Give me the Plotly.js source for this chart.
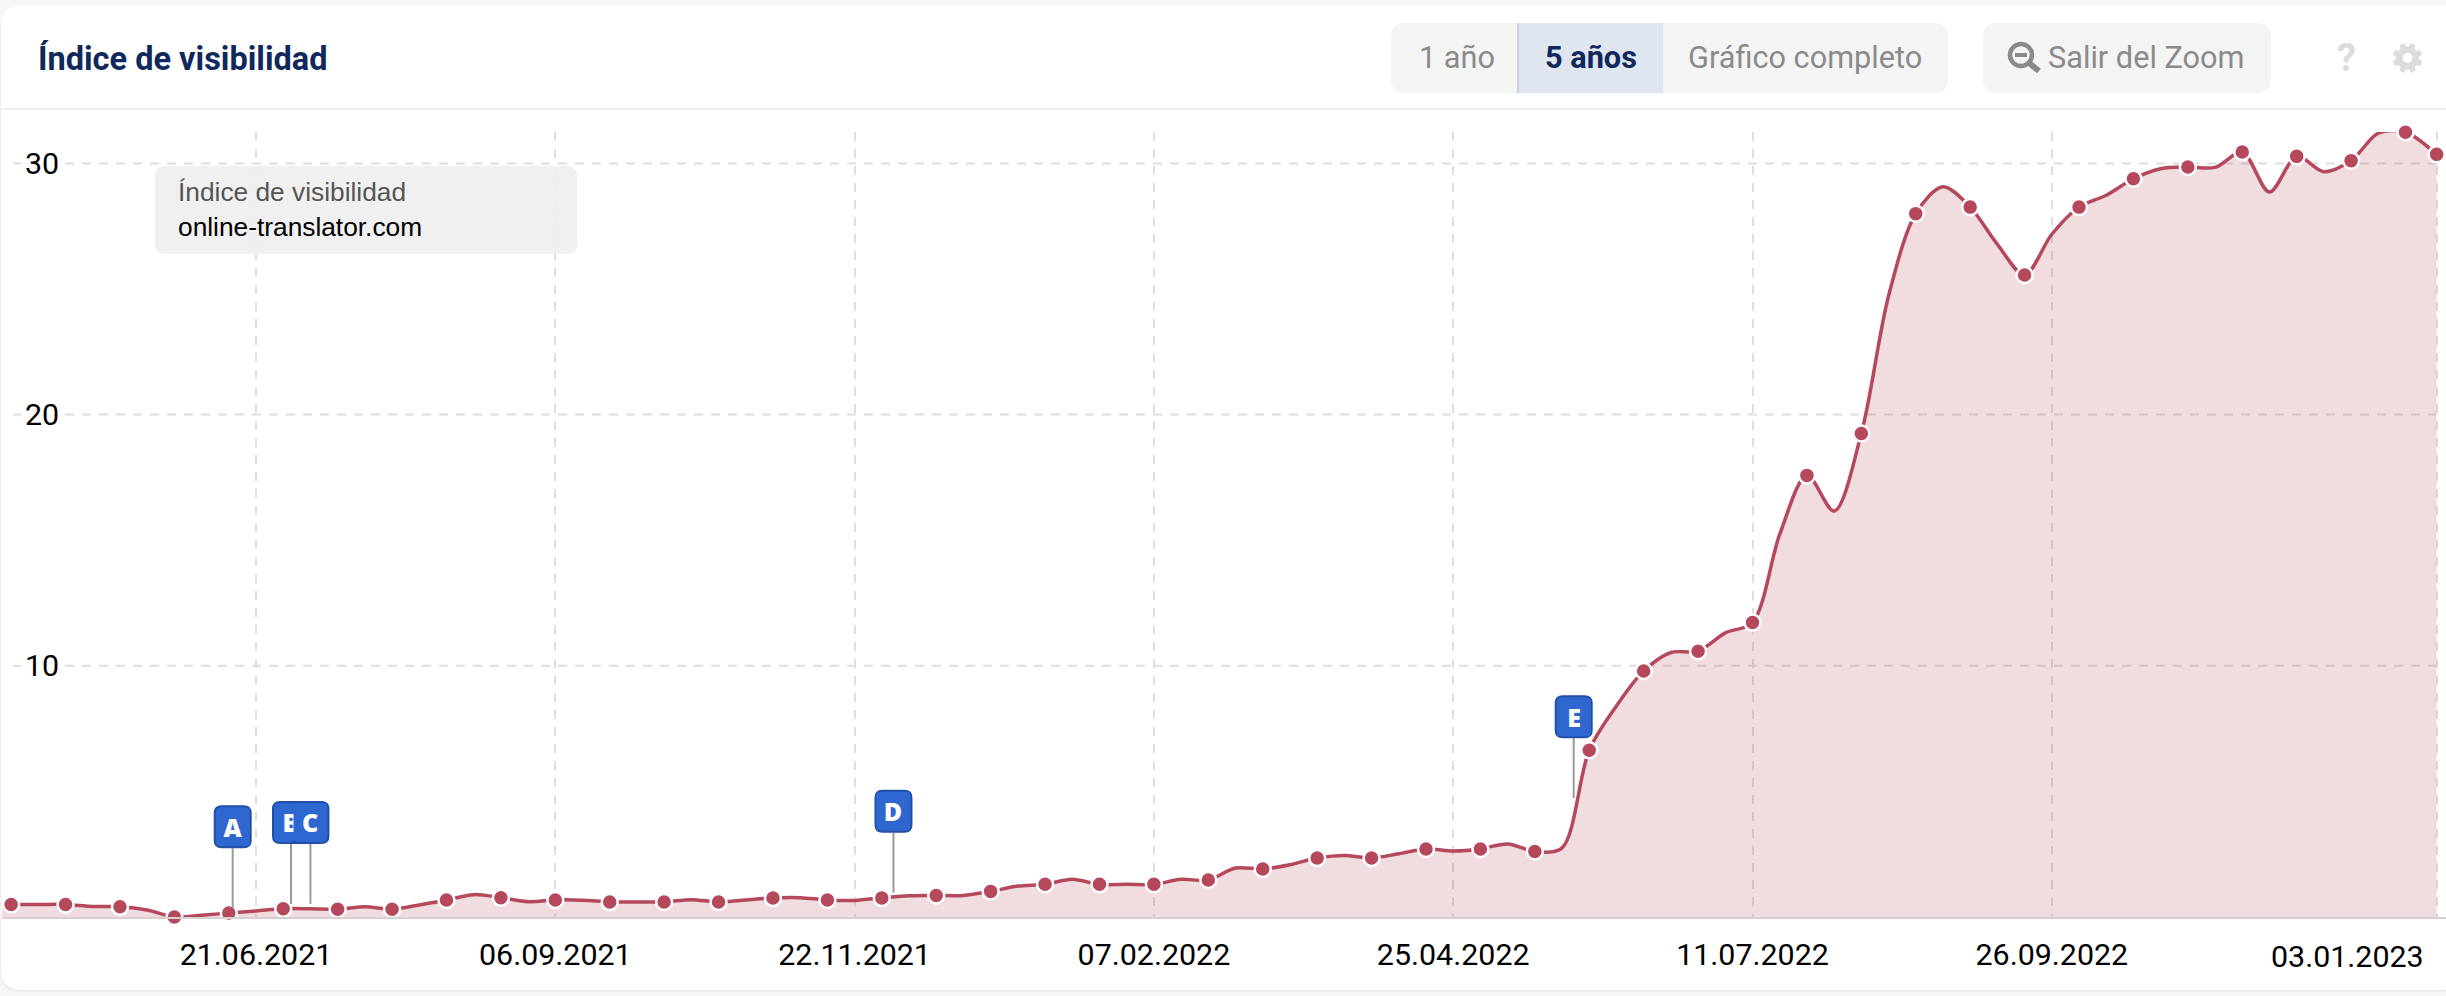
<!DOCTYPE html>
<html>
<head>
<meta charset="utf-8">
<script src="https://cdn.plot.ly/plotly-3.0.1.min.js"></script>
<style>
html,body{margin:0;padding:0;width:2446px;height:996px;overflow:hidden;background:#f6f6f6;}
#card{position:absolute;left:1px;top:5px;width:2460px;height:985px;background:#fff;border-radius:18px;box-shadow:0 1px 3px rgba(0,0,0,.08);}
#chart{position:absolute;left:0;top:0;width:2446px;height:996px;}
</style>
</head>
<body>
<div id="card"></div>
<div id="chart"></div>
<script>
// ---------- data ----------
const chartTitle = 'Índice de visibilidad';
const seriesName = 'online-translator.com';
const dates = [
'2021-04-12','2021-04-19','2021-04-26','2021-05-03','2021-05-10','2021-05-17','2021-05-24','2021-05-31',
'2021-06-07','2021-06-14','2021-06-21','2021-06-28','2021-07-05','2021-07-12','2021-07-19','2021-07-26',
'2021-08-02','2021-08-09','2021-08-16','2021-08-23','2021-08-30','2021-09-06','2021-09-13','2021-09-20',
'2021-09-27','2021-10-04','2021-10-11','2021-10-18','2021-10-25','2021-11-01','2021-11-08','2021-11-15',
'2021-11-22','2021-11-29','2021-12-06','2021-12-13','2021-12-20','2021-12-27','2022-01-03','2022-01-10',
'2022-01-17','2022-01-24','2022-01-31','2022-02-07','2022-02-14','2022-02-21','2022-02-28','2022-03-07',
'2022-03-14','2022-03-21','2022-03-28','2022-04-04','2022-04-11','2022-04-18','2022-04-25','2022-05-02',
'2022-05-09','2022-05-16','2022-05-23','2022-05-30','2022-06-06','2022-06-13','2022-06-20','2022-06-27',
'2022-07-04','2022-07-11','2022-07-18','2022-07-25','2022-08-01','2022-08-08','2022-08-15','2022-08-22',
'2022-08-29','2022-09-05','2022-09-12','2022-09-19','2022-09-26','2022-10-03','2022-10-10','2022-10-17',
'2022-10-24','2022-10-31','2022-11-07','2022-11-14','2022-11-21','2022-11-28','2022-12-05','2022-12-12',
'2022-12-19','2022-12-26','2023-01-03'];
const values = [
0.50,0.50,0.50,0.50,0.42,0.41,0.28,0.00,
0.07,0.16,0.24,0.33,0.33,0.31,0.41,0.31,
0.48,0.68,0.89,0.77,0.61,0.68,0.67,0.60,
0.60,0.60,0.69,0.60,0.68,0.76,0.77,0.68,
0.66,0.76,0.85,0.86,0.86,1.02,1.23,1.30,
1.50,1.30,1.30,1.30,1.50,1.47,1.95,1.91,
2.08,2.35,2.45,2.35,2.52,2.71,2.63,2.71,
2.91,2.61,2.75,6.64,8.40,9.79,10.53,10.58,
11.31,11.72,15.23,17.58,16.16,19.25,24.72,28.00,
29.07,28.26,26.78,25.56,27.18,28.26,28.73,29.39,
29.79,29.86,29.84,30.45,28.86,30.28,29.67,30.11,
31.20,31.24,30.36];
const tickDates = ['2021-06-21','2021-09-06','2021-11-22','2022-02-07','2022-04-25','2022-07-11','2022-09-26','2023-01-03'];
const tickLabels = ['21.06.2021','06.09.2021','22.11.2021','07.02.2022','25.04.2022','11.07.2022','26.09.2022','03.01.2023'];
const yTicks = [10,20,30];
const flagLabels = ['A','B','C','D','E'];
const flagDates = ['2021-06-15','2021-06-30','2021-07-05','2021-12-02','2022-05-26'];
const flagValues = [0.35,0.52,0.52,0.97,4.73];

// ---------- geometry & style ----------
const W=2446,H=996,L=2,R=0,T=132,B=79;
const fx=p=>(p-L)/(W-L-R), fy=p=>1-(p-T)/(H-T-B);
const RED='#b5485a', GREY='#8a8a8a', NAVY='#10295c';
function rr(x0,y0,x1,y1,r){
  const a=fx(x0),b=fx(x1),c=fy(y0),d=fy(y1),rx=r/(W-L-R),ry=r/(H-T-B);
  return `M ${a+rx} ${c} L ${b-rx} ${c} Q ${b} ${c} ${b} ${c-ry} L ${b} ${d+ry} Q ${b} ${d} ${b-rx} ${d} L ${a+rx} ${d} Q ${a} ${d} ${a} ${d+ry} L ${a} ${c-ry} Q ${a} ${c} ${a+rx} ${c} Z`;
}
const paperPath=(path,fill,line,layer)=>({type:'path',xref:'paper',yref:'paper',path,fillcolor:fill,line:line||{width:0},layer:layer||'above'});
const paperLine=(x0,y0,x1,y1,color,width,dash,layer)=>({type:'line',xref:'paper',yref:'paper',x0:fx(x0),y0:fy(y0),x1:fx(x1),y1:fy(y1),line:{color,width,dash:dash||'solid'},layer:layer||'above'});
const label=(text,px,py,size,color,family,anchor,weight)=>({xref:'paper',yref:'paper',x:fx(px),y:fy(py),text,showarrow:false,xanchor:anchor||'left',yanchor:'middle',
  font:{size,color,family:family||'Roboto, sans-serif',weight:weight||400},borderpad:0});

const shapes=[], annotations=[];
// header rule
shapes.push(paperLine(1,109,W,109,'#eeeeee',2));
// horizontal dashed gridlines, broken around the tick number
yTicks.forEach(v=>{
  [[13,21],[65,2436]].forEach(s=>shapes.push({type:'line',xref:'paper',yref:'y',x0:fx(s[0]),x1:fx(s[1]),y0:v,y1:v,layer:'below',
    line:{color:'#dedede',width:2,dash:'9px,8px'}}));
});
// range buttons
shapes.push(paperPath(rr(1391,23,1948,93,14),'#f4f4f4'));
shapes.push(paperPath(`M ${fx(1518)} ${fy(23)} L ${fx(1663)} ${fy(23)} L ${fx(1663)} ${fy(93)} L ${fx(1518)} ${fy(93)} Z`,'#e0e6f0'));
shapes.push(paperLine(1518,23,1518,93,'#c9d2e0',2));
shapes.push(paperPath(rr(1983,23,2271,93,14),'#f4f4f4'));
annotations.push(label('1 año',1418,57,30.7,GREY));
annotations.push(label('5 años',1544,57,30.7,NAVY,null,'left',700));
annotations.push(label('Gráfico completo',1687,57,30.7,GREY));
annotations.push(label('Salir del Zoom',2047,57,30.7,GREY));
// magnifier icon
shapes.push({type:'circle',xref:'paper',yref:'paper',x0:fx(2010),x1:fx(2032),y0:fy(44),y1:fy(66),line:{color:GREY,width:4.5},layer:'above'});
shapes.push(paperLine(2029,63,2039,71,GREY,6));
shapes.push(paperLine(2015,55,2027,55,GREY,4));
annotations.push(label('?',2346,58,38,'#dcdcdc',null,'center',700));
// gear icon
(function(){
  const cx=2407.5,cy=58,teeth=8;let p='';
  for(let i=0;i<teeth;i++){
    const a=i*2*Math.PI/teeth-Math.PI/8;
    [[a-0.26,11.5],[a-0.17,15],[a+0.17,15],[a+0.26,11.5]].forEach((q,k)=>{
      const X=fx(cx+q[1]*Math.cos(q[0])),Y=fy(cy+q[1]*Math.sin(q[0]));
      p+=(i===0&&k===0?'M ':'L ')+X+' '+Y+' ';
    });
  }
  shapes.push(paperPath(p+'Z','#dcdcdc'));
  shapes.push({type:'circle',xref:'paper',yref:'paper',x0:fx(cx-5),x1:fx(cx+5),y0:fy(cy-5),y1:fy(cy+5),fillcolor:'#ffffff',line:{width:0},layer:'above'});
})();
// info box
shapes.push(paperPath(rr(155,166,577,254,10),'rgba(239,239,239,0.92)'));
annotations.push(label(chartTitle,177,192,26.3,'#555555','Liberation Sans'));
annotations.push(label(seriesName,177,227,26.3,'#000000','Liberation Sans'));
// last tick label kept inside the plot, as in the source chart
annotations.push({xref:'x',yref:'paper',x:tickDates[7],y:0,xanchor:'right',yanchor:'middle',yshift:-39,xshift:-11,showarrow:false,
  text:tickLabels[7],font:{size:30.4,color:'#000',family:'Roboto, sans-serif'}});
// event flags
flagLabels.forEach((t,i)=>{
  const base={xref:'x',yref:'y',xanchor:flagDates[i],yanchor:flagValues[i],xsizemode:'pixel',ysizemode:'pixel',layer:'above'};
  shapes.push(Object.assign({},base,{type:'path',path:'M 0 0 L 0 60',line:{color:'#9a9a9a',width:2}}));
  const w=18,b=61,h=41,r=7;
  shapes.push(Object.assign({},base,{type:'path',fillcolor:'#2e67cf',line:{color:'#2150a6',width:2},
    path:`M ${-w+r} ${b} L ${w-r} ${b} Q ${w} ${b} ${w} ${b+r} L ${w} ${b+h-r} Q ${w} ${b+h} ${w-r} ${b+h} L ${-w+r} ${b+h} Q ${-w} ${b+h} ${-w} ${b+h-r} L ${-w} ${b+r} Q ${-w} ${b} ${-w+r} ${b} Z`}));
  annotations.push({xref:'x',yref:'y',x:flagDates[i],y:flagValues[i],yshift:b+h/2,showarrow:false,text:t,xanchor:'center',yanchor:'middle',
    width:32,height:36,align:'center',bgcolor:'#2e67cf',borderpad:0,font:{size:25,color:'#fff',family:'Open Sans, sans-serif',weight:800}});
});

const line={
  x:dates,y:values,type:'scatter',mode:'lines',line:{color:RED,width:3.5,shape:'spline',smoothing:0.9},
  fill:'tozeroy',fillcolor:'rgba(181,72,90,0.19)',hoverinfo:'skip',name:seriesName
};
const isDot=(_,i)=>i%2===1||i===dates.length-1;
const dots={
  x:dates.filter(isDot),y:values.filter(isDot),type:'scatter',mode:'markers',cliponaxis:false,
  marker:{color:RED,size:16,line:{color:'#ffffff',width:2.5}},hoverinfo:'skip',name:seriesName
};
const layout={
  width:W,height:H,margin:{l:L,r:R,t:T,b:B,pad:0},paper_bgcolor:'rgba(0,0,0,0)',plot_bgcolor:'rgba(0,0,0,0)',showlegend:false,
  title:{text:chartTitle,xref:'container',yref:'container',x:38/W,xanchor:'left',y:1-58.5/H,yanchor:'middle',
    font:{family:'Roboto, sans-serif',size:32.5,color:NAVY,weight:700}},
  xaxis:{type:'date',range:['2021-04-16 15:36','2023-01-05 10:00'],tickmode:'array',tickvals:tickDates,
    ticktext:tickLabels.map((t,i)=>i===7?'':t),showgrid:true,gridcolor:'#dedede',gridwidth:2,griddash:'9px,8px',
    tickfont:{family:'Roboto, sans-serif',size:30.4,color:'#000'},ticks:'',ticklabelstandoff:10,showline:true,linecolor:'#d9cfd1',linewidth:2,zeroline:false},
  yaxis:{range:[0,31.25],tickmode:'array',tickvals:yTicks,showgrid:false,zeroline:false,showline:false,ticks:'',
    ticklabelposition:'inside',ticklabelstandoff:20,tickfont:{family:'Roboto, sans-serif',size:30.4,color:'#000'}},
  shapes,annotations
};
Plotly.newPlot('chart',[line,dots],layout,{displayModeBar:false,staticPlot:true});
</script>
</body>
</html>
